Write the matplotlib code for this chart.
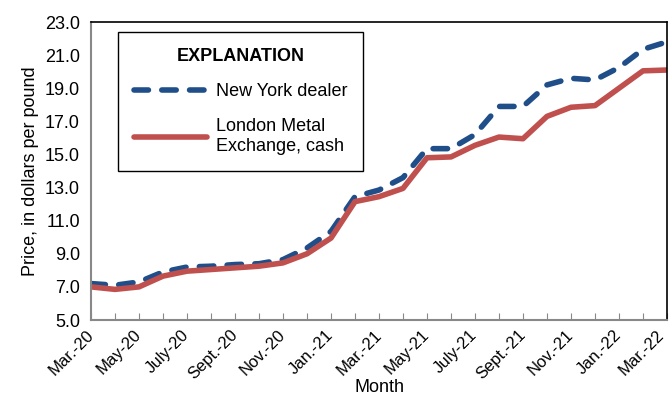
import matplotlib
matplotlib.use("Agg")
import matplotlib.pyplot as plt
import matplotlib.transforms as mtransforms
from matplotlib import font_manager

months = ["Mar.-20", "Apr.-20", "May-20", "June-20", "July-20", "Aug.-20", "Sept.-20",
          "Oct.-20", "Nov.-20", "Dec.-20", "Jan.-21", "Feb.-21", "Mar.-21", "Apr.-21",
          "May-21", "June-21", "July-21", "Aug.-21", "Sept.-21", "Oct.-21", "Nov.-21",
          "Dec.-21", "Jan.-22", "Feb.-22", "Mar.-22"]
new_york = [7.2, 7.1, 7.3, 7.9, 8.2, 8.25, 8.35, 8.4, 8.65, 9.35, 10.35, 12.45, 12.85,
            13.6, 15.35, 15.35, 16.2, 17.9, 17.9, 19.2, 19.6, 19.5, 20.25, 21.35, 21.8]
lme_cash = [7.0, 6.85, 7.0, 7.65, 7.95, 8.05, 8.15, 8.25, 8.45, 9.0, 9.95, 12.15, 12.45,
            12.95, 14.8, 14.85, 15.55, 16.05, 15.95, 17.3, 17.85, 17.95, 19.0, 20.05, 20.1]

names = {f.name for f in font_manager.fontManager.ttflist}
fam = "Liberation Sans Narrow" if "Liberation Sans Narrow" in names else "Liberation Sans"
plt.rcParams["font.family"] = [fam, "DejaVu Sans"]

fig = plt.figure(figsize=(6.7, 4.09), dpi=100)
ax = fig.add_axes([91 / 670, 1 - 320 / 409, 576 / 670, 298 / 409])

x = list(range(len(months)))
ax.plot(x, new_york, color="#1f4e89", lw=4, ls=(0, (2.6, 2.4)), dash_capstyle="round",
        label="New York dealer")
ax.plot(x, lme_cash, color="#c0504d", lw=4, solid_capstyle="round",
        label="London Metal\nExchange, cash")

ax.set_xlim(0, len(months) - 1)
ax.set_ylim(5, 23)
ax.set_yticks([5 + 2 * i for i in range(10)])
ax.set_yticklabels([f"{5 + 2 * i:.1f}" for i in range(10)], fontsize=13)
ax.tick_params(axis="y", length=0, pad=8)
ax.set_xticks(x)
labels = ax.set_xticklabels([m if i % 2 == 0 else "" for i, m in enumerate(months)],
                            rotation=45, ha="right", va="center", rotation_mode="anchor",
                            fontsize=12)
ax.tick_params(axis="x", direction="in", length=5, color="#888888", pad=9)
# nudge the last label so it stays inside the figure
last = labels[-1]
last.set_transform(last.get_transform() +
                   mtransforms.ScaledTranslation(-5 / 100, 0, fig.dpi_scale_trans))

for s in ["left", "bottom"]:
    ax.spines[s].set_color("#888888")
    ax.spines[s].set_linewidth(1.5)
for s in ["top", "right"]:
    ax.spines[s].set_color("black")
    ax.spines[s].set_linewidth(1.2)

ax.set_ylabel("Price, in dollars per pound", fontsize=13, labelpad=4)
ax.set_xlabel("Month", fontsize=13, labelpad=-2)

leg = ax.legend(loc="upper left", bbox_to_anchor=(0.047, 0.966), borderaxespad=0,
                title="EXPLANATION",
                fontsize=13, fancybox=False, edgecolor="black", framealpha=1,
                handlelength=4.0, borderpad=0.9, labelspacing=1.0, handletextpad=0.5)
leg.get_title().set_fontweight("bold")
leg.get_title().set_fontsize(13)
leg.get_frame().set_linewidth(1.0)

fig.savefig("out.png", dpi=100)
